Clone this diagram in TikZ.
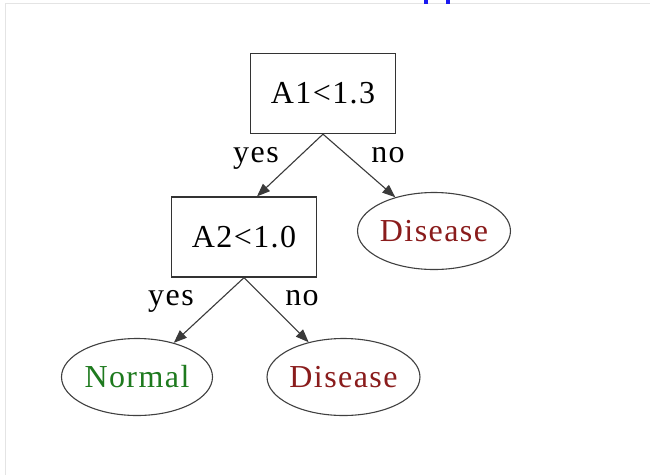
\documentclass[tikz,border=0pt]{standalone}
\usepackage{fontspec}
\setmainfont[LetterSpace=4.5]{Liberation Serif}
\usetikzlibrary{arrows.meta,shapes.geometric}
\definecolor{edgegray}{HTML}{3A3A3A}
\definecolor{leafgreen}{HTML}{1E7A1E}
\definecolor{leafred}{HTML}{8A1C1C}
\definecolor{framegray}{HTML}{E4E4E4}
\definecolor{linkblue}{HTML}{1A1AF0}
\begin{document}
\begin{tikzpicture}[x=1pt,y=-1pt,
  big/.style={font=\fontsize{32}{36}\selectfont},
  test/.style={big, draw=black!80, line width=1.3pt, rectangle,
    minimum width=145pt, minimum height=80pt, inner sep=0pt},
  leaf/.style={big, draw=black!75, line width=1.1pt, ellipse,
    minimum width=151pt, minimum height=77pt, inner sep=0pt},
  branch/.style={draw=edgegray, line width=1.1pt,
    -{Triangle[length=13pt,width=10pt]}},
  elabel/.style={big, inner sep=0pt, anchor=base}]

% page and thin frame
\fill[white] (0,0) rectangle (650,475);
\useasboundingbox (0,0) rectangle (650,475);
\draw[framegray, line width=1pt] (5,475) -- (5,3) -- (650,3);
\fill[linkblue] (424,0) rectangle (428,4);
\fill[linkblue] (446,0) rectangle (450,4);

% decision nodes
\node[test] (a1) at (323,93.5) {A1<1.3};
\node[test] (a2) at (244,237) {A2<1.0};

% leaves
\node[leaf, text=leafred]   (dis1) at (434,231) {Disease};
\node[leaf, text=leafgreen] (norm) at (137,377) {Normal};
\node[leaf, text=leafred]   (dis2) at (343.5,377) {Disease};

% branches
\coordinate (a2in) at ([xshift=13pt]a2.north);
\draw[branch] (a1.south) -- (a2in);
\draw[branch] (a1.south) -- (dis1);
\draw[branch] (a2.south) -- (norm);
\draw[branch] (a2.south) -- (dis2);

% branch labels
\node[elabel] (y1) at (256,162) {yes};
\node[elabel] (n1) at (388,162) {no};
\node[elabel] (y2) at (171,305) {yes};
\node[elabel] (n2) at (302,305) {no};
\end{tikzpicture}
\end{document}
